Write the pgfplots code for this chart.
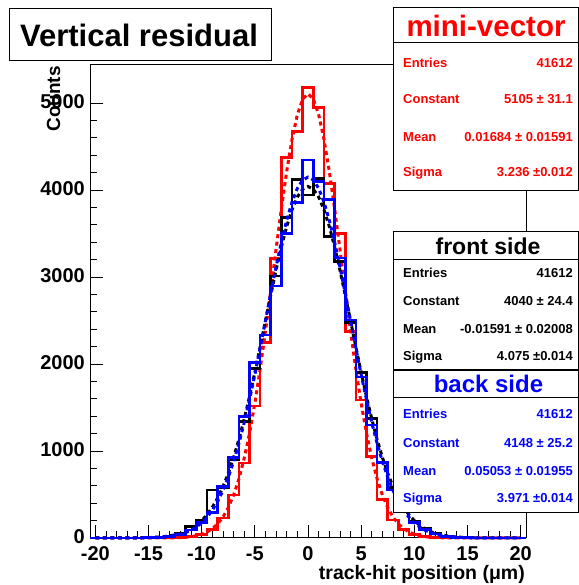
\documentclass[border=0pt]{standalone}
\usepackage{fontspec}
\setmainfont{Liberation Sans}
\usepackage{pgfplots}
\pgfplotsset{compat=1.18}
\usepackage{pgfplotstable}
\definecolor{rred}{RGB}{255,0,0}
\definecolor{rblue}{RGB}{0,0,255}
\newcommand{\fs}[1]{\fontsize{#1bp}{#1bp}\selectfont\bfseries}

% histogram bins: left edge, value of the bin [edge, edge+1]
\pgfplotstableread{
edge black red blue
-20.5 0 0 0
-19.5 0 0 0
-18.5 0 0 0
-17.5 0 0 0
-16.5 0 0 0
-15.5 5 0 3
-14.5 11 0 8
-13.5 25 2 20
-12.5 50 6 43
-11.5 135 16 90
-10.5 200 42 176
-9.5 552 100 290
-8.5 580 230 590
-7.5 897 494 923
-6.5 1338 860 1395
-5.5 1950 1517 2015
-4.5 2333 2250 2333
-3.5 3011 3215 2895
-2.5 3686 4375 3502
-1.5 4123 4670 3854
-0.5 3943 5180 4345
0.5 4134 4950 4100
1.5 3464 4077 3890
2.5 3180 3502 3220
3.5 2480 2372 2506
4.5 1900 1586 1850
5.5 1375 935 1300
6.5 870 440 866
7.5 580 207 552
8.5 350 100 330
9.5 190 42 180
10.5 106 16 95
11.5 53 6 45
12.5 25 2 20
13.5 11 0 8
14.5 5 0 3
15.5 2 0 1
16.5 0 0 0
17.5 0 0 0
18.5 0 0 0
19.5 0 0 0
20.5 0 0 0
}\hist

% fitted Gaussians, sampled
\pgfplotstableread{
x black red blue
-20 0 0 0
-18 0.2 0 0.1
-17 0.7 0 0.4
-16 1.8 0 1.2
-15 4.6 0 3.3
-14 11 0.4 8.3
-13.5 17 0.9 13
-13 25 1.6 20
-12.5 37 3 29
-12 53 5 43
-11.5 75 9 63
-11 106 16 89
-10.5 146 26 126
-10 199 43 174
-9.5 267 69 237
-9 352 107 318
-8.5 459 162 420
-8 588 240 545
-7.5 743 348 697
-7 924 492 877
-6.5 1132 679 1087
-6 1367 915 1325
-5.5 1625 1204 1590
-5 1903 1547 1877
-4.5 2196 1941 2183
-4 2496 2378 2498
-3.5 2794 2844 2813
-3 3081 3322 3118
-2.5 3347 3788 3402
-2 3582 4217 3654
-1.5 3775 4585 3862
-1 3920 4867 4019
-0.5 4010 5044 4115
0 4040 5105 4148
0.5 4010 5044 4115
1 3920 4867 4019
1.5 3775 4585 3862
2 3582 4217 3654
2.5 3347 3788 3402
3 3081 3322 3118
3.5 2794 2844 2813
4 2496 2378 2498
4.5 2196 1941 2183
5 1903 1547 1877
5.5 1625 1204 1590
6 1367 915 1325
6.5 1132 679 1087
7 924 492 877
7.5 743 348 697
8 588 240 545
8.5 459 162 420
9 352 107 318
9.5 267 69 237
10 199 43 174
10.5 146 26 126
11 106 16 89
11.5 75 9 63
12 53 5 43
12.5 37 3 29
13 25 1.6 20
13.5 17 0.9 13
14 11 0.4 8.3
15 4.6 0 3.3
16 1.8 0 1.2
17 0.7 0 0.4
18 0.2 0 0.1
20 0 0 0
}\fits

\begin{document}
\begin{tikzpicture}[x=1bp,y=1bp]
\path[use as bounding box] (0,0) rectangle (579,585);
\begin{axis}[
  at={(90bp,47bp)}, anchor=south west,
  scale only axis, width=436bp, height=473bp,
  xmin=-20.5, xmax=20.5, ymin=0, ymax=5437,
  clip=false,
  axis line style={line width=1bp},
  tick align=inside,
  xtick pos=bottom, ytick pos=left,
  xtick={-20,-15,...,20},
  xticklabels={-20,-15,-10,-5,0,5,10,15,20},
  minor x tick num=4,
  ytick={0,1000,2000,3000,4000,5000},
  yticklabels={0,1000,2000,3000,4000,5000},
  minor y tick num=4,
  major tick length=13bp, minor tick length=7bp,
  every tick/.style={black, line width=0.8bp},
  ticklabel style={font=\fs{20}},
  xticklabel style={inner sep=0pt, yshift=-8.5bp},
  yticklabel style={inner sep=0pt, xshift=-5bp, yshift=1bp},
  scaled y ticks=false,
]
\addplot[const plot mark left, rred, line width=2.6bp, line join=miter, no marks] table[x=edge,y=red]{\hist};
\addplot[rred, line width=3bp, dash pattern=on 4bp off 3.5bp, no marks] table[x=x,y=red]{\fits};
\addplot[const plot mark left, black, line width=2.6bp, line join=miter, no marks] table[x=edge,y=black]{\hist};
\addplot[black, line width=3bp, dash pattern=on 4bp off 3.5bp, no marks] table[x=x,y=black]{\fits};
\addplot[const plot mark left, rblue, line width=2.6bp, line join=miter, no marks] table[x=edge,y=blue]{\hist};
\addplot[rblue, line width=3bp, dash pattern=on 4bp off 3.5bp, no marks] table[x=x,y=blue]{\fits};
\end{axis}

% axis titles
\node[rotate=90, anchor=base east, inner sep=0pt, font=\fs{19}] at (60,519) {Counts};
\node[anchor=base east, inner sep=0pt, font=\fs{19.5}] at (525,5) {track-hit position (μm)};

% title box
\draw[fill=white, line width=1bp] (9,524) rectangle (271,576);
\node[anchor=base, inner sep=0pt, font=\fs{31}] at (139,538) {Vertical residual};

% mini-vector box
\draw[fill=white, line width=1bp] (393,394) rectangle (578,577);
\draw[line width=1bp] (393,542) -- (578,542);
\node[anchor=base, inner sep=0pt, text=rred, font=\fs{29.5}] at (486,548) {mini-vector};
\begin{scope}[every node/.style={inner sep=0pt, text=rred, font=\fs{13}}]
\node[anchor=base west] at (403,517) {Entries};
\node[anchor=base east] at (573,517) {41612};
\node[anchor=base west] at (403,481) {Constant};
\node[anchor=base east] at (573,481) {5105 ± 31.1};
\node[anchor=base west] at (403,443) {Mean};
\node[anchor=base east] at (573,443) {0.01684 ± 0.01591};
\node[anchor=base west] at (403,408) {Sigma};
\node[anchor=base east] at (573,408) {3.236 ±0.012};
\end{scope}

% front side box
\draw[fill=white, line width=1bp] (393,215) rectangle (578,353);
\draw[line width=1bp] (393,325) -- (578,325);
\node[anchor=base, inner sep=0pt, font=\fs{23}] at (488,330) {front side};
\begin{scope}[every node/.style={inner sep=0pt, text=black, font=\fs{13}}]
\node[anchor=base west] at (403,307.5) {Entries};
\node[anchor=base east] at (573,307.5) {41612};
\node[anchor=base west] at (403,279.5) {Constant};
\node[anchor=base east] at (573,279.5) {4040 ± 24.4};
\node[anchor=base west] at (403,251.5) {Mean};
\node[anchor=base east] at (573,251.5) {-0.01591 ± 0.02008};
\node[anchor=base west] at (403,224.5) {Sigma};
\node[anchor=base east] at (573,224.5) {4.075 ±0.014};
\end{scope}

% back side box
\draw[fill=white, line width=1bp] (393,72) rectangle (578,214);
\draw[line width=1bp] (393,187) -- (578,187);
\node[anchor=base, inner sep=0pt, text=rblue, font=\fs{24}] at (488.5,192) {back side};
\begin{scope}[every node/.style={inner sep=0pt, text=rblue, font=\fs{13}}]
\node[anchor=base west] at (403,166.5) {Entries};
\node[anchor=base east] at (573,166.5) {41612};
\node[anchor=base west] at (403,137.5) {Constant};
\node[anchor=base east] at (573,137.5) {4148 ± 25.2};
\node[anchor=base west] at (403,109.5) {Mean};
\node[anchor=base east] at (573,109.5) {0.05053 ± 0.01955};
\node[anchor=base west] at (403,82.5) {Sigma};
\node[anchor=base east] at (573,82.5) {3.971 ±0.014};
\end{scope}
\end{tikzpicture}
\end{document}
